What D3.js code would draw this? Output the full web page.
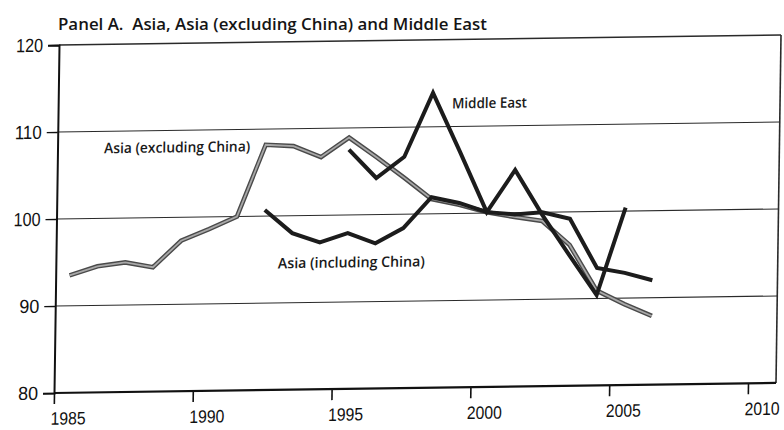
<!DOCTYPE html>
<html>
<head>
<meta charset="utf-8">
<script src="https://cdn.jsdelivr.net/npm/d3@7"></script>
<style>
  html, body { margin: 0; padding: 0; background: #fff; }
  svg { display: block; }
</style>
</head>
<body>
<svg id="chart" width="784" height="430"></svg>
<script>
// ---------------- data ----------------
const yearsExChina = [1985,1986,1987,1988,1989,1990,1991,1992,1993,1994,1995,1996,1997,1998,1999,2000,2001,2002,2003,2004,2005,2006];
const asiaExChina  = [93.5,94.5,94.9,94.3,97.3,98.6,100.0,108.2,108.0,106.7,108.9,106.6,104.2,101.7,101.0,100.1,99.5,99.0,96.2,90.9,89.3,87.9];

const yearsInclChina = [1992,1993,1994,1995,1996,1997,1998,1999,2000,2001,2002,2003,2004,2005,2006];
const asiaInclChina  = [100.7,98.0,96.9,97.9,96.7,98.4,101.9,101.2,100.1,99.8,100.0,99.2,93.5,92.9,92.0];

const yearsMiddleEast = [1995,1996,1997,1998,1999,2000,2001,2002,2003,2004,2005];
const middleEast      = [107.5,104.2,106.6,113.9,107.1,100.1,104.9,99.7,95.0,90.4,100.4];

const xTickYears = [1985,1990,1995,2000,2005,2010];
const yTickValues = [80,90,100,110,120];
const gridValues = [90,100,110,120];

const titleText = "Panel A.  Asia, Asia (excluding China) and Middle East";
const labelMiddleEast = "Middle East";
const labelExChina = "Asia (excluding China)";
const labelInclChina = "Asia (including China)";

// ---------------- layout ----------------
const svg = d3.select("#chart");
const plotLeft = 54, plotBottom = 393, plotTop = 45, plotRight = 776;

const x = d3.scaleLinear().domain([1985, 2010]).range([plotLeft, 748]);
const y = d3.scaleLinear().domain([80, 120]).range([plotBottom, plotTop]);
const half = 0.5; // observations are centred within each year

// slight skew of the scanned page
const g = svg.append("g")
  .attr("transform", "matrix(1,-0.0139,-0.0144,1,5.66,0.75)");

const numFont = "'Liberation Sans', Arial, sans-serif";
const txtFont = "'Open Sans', 'Liberation Sans', sans-serif";

// gridlines
g.append("g").selectAll("line").data(gridValues).join("line")
  .attr("x1", plotLeft).attr("x2", plotRight)
  .attr("y1", d => y(d)).attr("y2", d => y(d))
  .attr("stroke", "#2a2a2a").attr("stroke-width", d => d === 120 ? 1.6 : 1.1);

// right border
g.append("line")
  .attr("x1", plotRight).attr("x2", plotRight)
  .attr("y1", y(120)).attr("y2", y(80))
  .attr("stroke", "#2a2a2a").attr("stroke-width", 1.6);

// y axis
const yAxis = g.append("g")
  .attr("transform", `translate(${plotLeft},0)`)
  .call(d3.axisLeft(y).tickValues(yTickValues).tickSize(11).tickPadding(5).tickFormat(d3.format("d")));
yAxis.select(".domain").attr("stroke", "#111").attr("stroke-width", 2);
yAxis.selectAll(".tick line").attr("stroke", "#111").attr("stroke-width", 1.4);
yAxis.selectAll(".tick text")
  .attr("font-family", numFont).attr("font-size", 19).attr("fill", "#111")
  .attr("textLength", d => String(d).length === 3 ? 27 : 20)
  .attr("lengthAdjust", "spacingAndGlyphs");

// x axis
const xAxis = g.append("g")
  .attr("transform", `translate(0,${plotBottom})`)
  .call(d3.axisBottom(x).tickValues(xTickYears).tickSize(11).tickPadding(8).tickFormat(d3.format("d")));
xAxis.select(".domain").remove();
g.append("line")
  .attr("x1", plotLeft).attr("x2", plotRight)
  .attr("y1", plotBottom).attr("y2", plotBottom)
  .attr("stroke", "#111").attr("stroke-width", 2.2);
xAxis.selectAll(".tick line").attr("stroke", "#111").attr("stroke-width", 1.6);
xAxis.selectAll(".tick text")
  .attr("x", x(1985 + half) - x(1985))
  .attr("font-family", numFont).attr("font-size", 18).attr("fill", "#111")
  .attr("textLength", 35).attr("lengthAdjust", "spacingAndGlyphs");

// lines
const line = d3.line().x(d => x(d[0] + half)).y(d => y(d[1]));
const exData = yearsExChina.map((yr, i) => [yr, asiaExChina[i]]);
const inData = yearsInclChina.map((yr, i) => [yr, asiaInclChina[i]]);
const meData = yearsMiddleEast.map((yr, i) => [yr, middleEast[i]]);

g.append("path").datum(exData).attr("d", line)
  .attr("fill", "none").attr("stroke", "#4a4a4a").attr("stroke-width", 4.6)
  .attr("stroke-linejoin", "miter");
g.append("path").datum(exData).attr("d", line)
  .attr("fill", "none").attr("stroke", "#a8a8a8").attr("stroke-width", 1.8)
  .attr("stroke-linejoin", "miter");

g.append("path").datum(inData).attr("d", line)
  .attr("fill", "none").attr("stroke", "#1c1c1c").attr("stroke-width", 4)
  .attr("stroke-linejoin", "miter");

g.append("path").datum(meData).attr("d", line)
  .attr("fill", "none").attr("stroke", "#1c1c1c").attr("stroke-width", 4)
  .attr("stroke-linejoin", "miter");

// series labels
function seriesLabel(text, yr, val, len) {
  g.append("text")
    .attr("x", x(yr)).attr("y", y(val))
    .attr("dominant-baseline", "central")
    .attr("font-family", txtFont).attr("font-size", 14.5).attr("font-weight", 600)
    .attr("fill", "#1a1a1a")
    .attr("textLength", len).attr("lengthAdjust", "spacingAndGlyphs")
    .text(text);
}
seriesLabel(labelMiddleEast, 1999.19, 112.7, 75);
seriesLabel(labelExChina, 1986.68, 108.1, 146);
seriesLabel(labelInclChina, 1993.0, 94.6, 147);

// title
svg.append("text")
  .attr("x", 58).attr("y", 30)
  .style("white-space", "pre")
  .attr("font-family", txtFont).attr("font-size", 17).attr("font-weight", 600)
  .attr("fill", "#151515")
  .attr("textLength", 429).attr("lengthAdjust", "spacingAndGlyphs")
  .text(titleText);
</script>
</body>
</html>
